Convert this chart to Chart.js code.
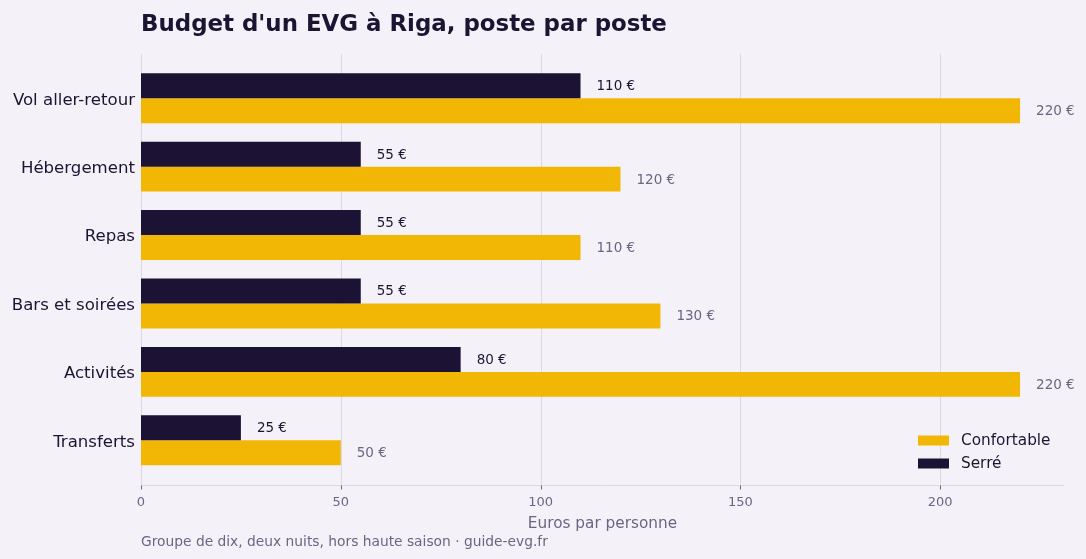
<!DOCTYPE html>
<html lang="fr">
<head>
<meta charset="utf-8">
<title>Budget d'un EVG à Riga</title>
<script src="https://cdn.jsdelivr.net/npm/chart.js@4.4.1/dist/chart.umd.min.js"></script>
<style>
    html, body { margin: 0; padding: 0; background: #f4f2f8; }
    #wrap { width: 1086px; height: 559px; }
</style>
</head>
<body>
<div id="wrap"><canvas id="budget-chart"></canvas></div>
<script>
// Données
const categories = ['Vol aller-retour', 'Hébergement', 'Repas', 'Bars et soirées', 'Activités', 'Transferts'];
const serre = [110, 55, 55, 55, 80, 25];
const confortable = [220, 120, 110, 130, 220, 50];
const xTicks = [0, 50, 100, 150, 200];

const FONT = "'DejaVu Sans', sans-serif";
const INK = '#1c1433';
const MUTED = '#6b6585';
const GRID = '#dcd8e5';
const EXT = 10; // the frame runs a bit past the first and last band

// Grid, axis line, value labels, legend and texts
const decorations = {
    id: 'decorations',
    beforeDatasetsDraw(chart) {
        const { ctx, chartArea: a, scales: { x } } = chart;
        ctx.save();
        ctx.strokeStyle = GRID;
        ctx.lineWidth = 1;
        xTicks.forEach(v => {
            const px = Math.round(x.getPixelForValue(v)) + 0.5;
            ctx.beginPath();
            ctx.moveTo(px, a.top - EXT);
            ctx.lineTo(px, a.bottom + EXT);
            ctx.stroke();
        });
        const yb = Math.round(a.bottom + EXT) + 0.5;
        ctx.beginPath();
        ctx.moveTo(a.left, yb);
        ctx.lineTo(a.right, yb);
        ctx.stroke();
        ctx.strokeStyle = MUTED;
        xTicks.forEach(v => {
            const px = Math.round(x.getPixelForValue(v)) + 0.5;
            ctx.beginPath();
            ctx.moveTo(px, yb);
            ctx.lineTo(px, yb + 4);
            ctx.stroke();
        });
        ctx.restore();
    },
    afterDatasetsDraw(chart) {
        const { ctx, chartArea: a } = chart;
        ctx.save();
        ctx.font = '13.5px ' + FONT;
        ctx.textBaseline = 'middle';
        ctx.textAlign = 'left';
        chart.data.datasets.forEach((ds, i) => {
            ctx.fillStyle = ds.labelColor;
            chart.getDatasetMeta(i).data.forEach((bar, j) => {
                ctx.fillText(ds.data[j] + ' €', bar.x + 16, bar.y + 1);
            });
        });

        // legend, bottom right inside the frame
        const items = chart.data.datasets.slice().reverse();
        ctx.font = '15.3px ' + FONT;
        items.forEach((ds, k) => {
            const cy = a.bottom - 34 + k * 23;
            ctx.fillStyle = ds.backgroundColor;
            ctx.fillRect(a.right - 146, cy - 5, 31, 10);
            ctx.fillStyle = INK;
            ctx.fillText(ds.label, a.right - 103, cy + 1);
        });

        // titles
        ctx.fillStyle = INK;
        ctx.font = 'bold 22.9px ' + FONT;
        ctx.textBaseline = 'alphabetic';
        ctx.fillText("Budget d'un EVG à Riga, poste par poste", a.left, 31);
        ctx.fillStyle = MUTED;
        ctx.font = '15.3px ' + FONT;
        ctx.textAlign = 'center';
        ctx.fillText('Euros par personne', (a.left + a.right) / 2, 528);
        ctx.font = '13.8px ' + FONT;
        ctx.textAlign = 'left';
        ctx.fillText('Groupe de dix, deux nuits, hors haute saison · guide-evg.fr', a.left, 546);
        ctx.restore();
    }
};

const ctx = document.getElementById('budget-chart').getContext('2d');

new Chart(ctx, {
    type: 'bar',
    data: {
        labels: categories,
        datasets: [
            {
                label: 'Serré',
                data: serre,
                backgroundColor: '#1c1233',
                labelColor: INK
            },
            {
                label: 'Confortable',
                data: confortable,
                backgroundColor: '#f2b705',
                labelColor: MUTED
            }
        ]
    },
    options: {
        indexAxis: 'y',
        responsive: true,
        maintainAspectRatio: false,
        animation: false,
        categoryPercentage: 0.73,
        barPercentage: 1.0,
        layout: { padding: { top: 64, right: 22, bottom: 0, left: 0 } },
        plugins: {
            legend: { display: false },
            tooltip: { enabled: false }
        },
        scales: {
            x: {
                min: 0,
                max: 231,
                afterBuildTicks: scale => { scale.ticks = xTicks.map(v => ({ value: v })); },
                afterFit: scale => { scale.height = 84.5; },
                grid: { display: false, drawTicks: false },
                border: { display: false },
                ticks: {
                    padding: 20,
                    color: MUTED,
                    font: { family: FONT, size: 13 }
                }
            },
            y: {
                afterFit: scale => { scale.width = 141; },
                grid: { display: false, drawTicks: false },
                border: { display: false },
                ticks: {
                    padding: 6,
                    labelOffset: 2,
                    color: INK,
                    font: { family: FONT, size: 16.6 }
                }
            }
        }
    },
    plugins: [decorations]
});
</script>
</body>
</html>
